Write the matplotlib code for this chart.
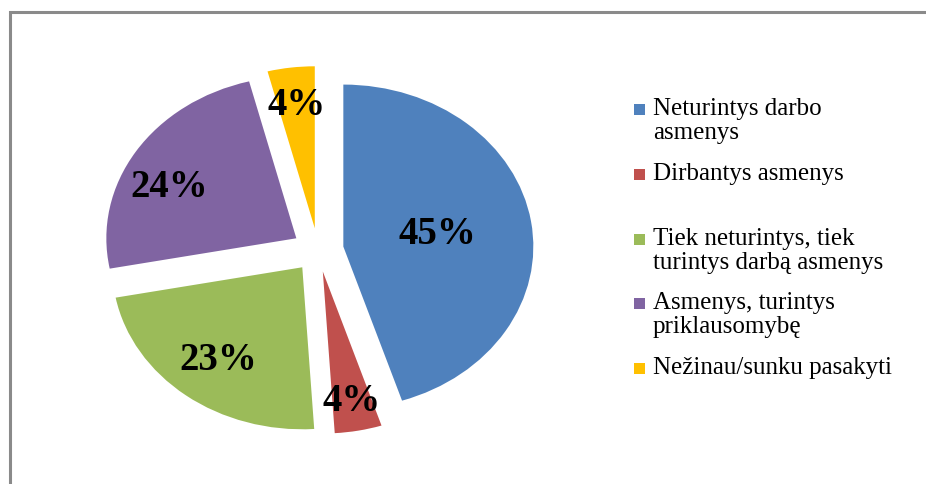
import matplotlib
matplotlib.use("Agg")
import matplotlib.pyplot as plt
from matplotlib.patches import Rectangle
import numpy as np

# ---- data ----
categories = ["Neturintys darbo\nasmenys",
              "Dirbantys asmenys",
              "Tiek neturintys, tiek\nturintys darbą asmenys",
              "Asmenys, turintys\npriklausomybę",
              "Nežinau/sunku pasakyti"]
values = [45, 4, 23, 24, 4]
pct_labels = ["45%", "4%", "23%", "24%", "4%"]
colors = ["#4F81BD", "#C0504D", "#9BBB59", "#8064A2", "#FFC000"]

# ---- layout (pixels) ----
W, H = 926, 485
cx, cy = 318, 251          # pie centre (px from left / top)
rx, ry = 190, 162          # pie radii in px (chart is stretched horizontally)
explode = [0.135] * 5
label_dist = [0.50, 0.81, 0.72, 0.74, 0.77]
label_ang_off = [0, 0, 0, 7, 0]

fig = plt.figure(figsize=(W / 100, H / 100), dpi=100)
fig.patch.set_facecolor("white")
ax = fig.add_axes([0, 0, 1, 1])

wedges, _ = ax.pie(values, colors=colors, startangle=90, counterclock=False,
                   explode=explode, radius=1, center=(0, 0),
                   wedgeprops=dict(linewidth=0))
ax.set_aspect("auto")
ax.set_xlim(-cx / rx, (W - cx) / rx)
ax.set_ylim(-(H - cy) / ry, cy / ry)
ax.set_axis_off()

for w, lab, d, da in zip(wedges, pct_labels, label_dist, label_ang_off):
    th = np.deg2rad((w.theta1 + w.theta2) / 2 + da)
    x0, y0 = w.center
    ax.text(x0 + d * np.cos(th), y0 + d * np.sin(th), lab,
            ha="center", va="center", fontsize=28, fontweight="bold",
            family="Liberation Serif", color="black")

# ---- chart frame ----
fig.patches.append(Rectangle((9.5 / W, -0.2), 1.5, (H - 12.5) / H + 0.2,
                             transform=fig.transFigure, fill=False,
                             edgecolor="#8a8a8a", linewidth=2.2))

# ---- legend (manual, Excel style) ----
base0, step = 118, 64.8
sq = 11
for i, (lab, col) in enumerate(zip(categories, colors)):
    by = base0 + i * step
    fig.patches.append(Rectangle((634 / W, (H - by + 2) / H), sq / W, sq / H,
                                 transform=fig.transFigure,
                                 facecolor=col, edgecolor="none"))
    fig.text(653 / W, (H - by + 20) / H, lab, ha="left", va="top",
             fontsize=18, family="Liberation Serif", color="black",
             linespacing=1.12)

fig.savefig("out.png", dpi=100)
